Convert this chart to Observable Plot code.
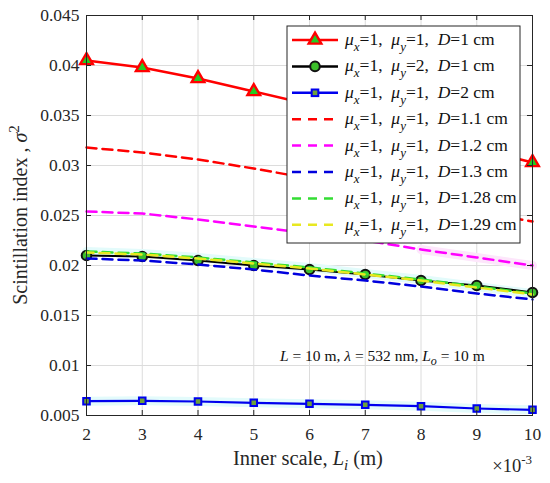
<!DOCTYPE html>
<html><head><meta charset="utf-8">
<script src="https://cdn.jsdelivr.net/npm/d3@7"></script>
<script src="https://cdn.jsdelivr.net/npm/@observablehq/plot@0.6"></script>
<style>
body{margin:0;background:#fff;}
#chart{position:relative;width:550px;height:483px;}
</style>
</head><body><div id="chart"></div>
<script>
// Inner scale L_i (×10^-3 m)
const innerScale = [2, 3, 4, 5, 6, 7, 8, 9, 10];
const xTicks = [2, 3, 4, 5, 6, 7, 8, 9, 10];
const yTicks = [0.005, 0.01, 0.015, 0.02, 0.025, 0.03, 0.035, 0.04, 0.045];

const sD1   = [0.0405, 0.0398, 0.0387, 0.0374, 0.0361, 0.0346, 0.0331, 0.0317, 0.0303];
const sMu2  = [0.0210, 0.0209, 0.0205, 0.0200, 0.0196, 0.0191, 0.0185, 0.0180, 0.0173];
const sD2   = [0.00643, 0.00647, 0.0064, 0.00627, 0.00617, 0.00607, 0.00593, 0.0057, 0.00557];
const sD11  = [0.0318, 0.0313, 0.0306, 0.0297, 0.0287, 0.0276, 0.0265, 0.0254, 0.0244];
const sD12  = [0.0254, 0.0252, 0.0246, 0.0239, 0.0232, 0.0225, 0.0216, 0.0208, 0.0200];
const sD13  = [0.0207, 0.0205, 0.0201, 0.0196, 0.0190, 0.0185, 0.0179, 0.0172, 0.0166];
const sD128 = [0.0214, 0.0212, 0.0208, 0.0203, 0.0198, 0.0192, 0.0186, 0.0179, 0.0172];
const sD129 = [0.0213, 0.0211, 0.0207, 0.0202, 0.0197, 0.0191, 0.0185, 0.0178, 0.0171];

const seriesNames = ["D1", "mu2", "D2", "D1.1", "D1.2", "D1.3", "D1.28", "D1.29"];
const legendLabels = [
  ["1", "1", "1 cm"], ["1", "2", "1 cm"], ["1", "1", "2 cm"], ["1", "1", "1.1 cm"],
  ["1", "1", "1.2 cm"], ["1", "1", "1.3 cm"], ["1", "1", "1.28 cm"], ["1", "1", "1.29 cm"]
];

const toRows = (vals) => innerScale.map((x, i) => ({x, y: vals[i]}));

const serif = "'Liberation Serif', 'Times New Roman', serif";
const dash = "10,6";

const plot = Plot.plot({
  width: 550, height: 483,
  marginLeft: 86, marginRight: 18, marginTop: 15, marginBottom: 68,
  style: {fontFamily: serif, fontSize: "17.5px", color: "#262626", background: "#fff"},
  x: {domain: [2, 10], label: null},
  y: {domain: [0.005, 0.045], label: null},
  marks: [
    Plot.gridX(xTicks, {stroke: "#dcdcdc", strokeOpacity: 1, strokeWidth: 1}),
    Plot.gridY(yTicks, {stroke: "#dcdcdc", strokeOpacity: 1, strokeWidth: 1}),
    // faint halo
    Plot.line(toRows(sD128), {x: "x", y: "y", stroke: "#e3fbfb", strokeWidth: 9}),
    Plot.line(toRows(sD2), {x: "x", y: "y", stroke: "#e3fbfb", strokeWidth: 9}),
    Plot.line(toRows(sD12).slice(6), {x: "x", y: "y", stroke: "#fde6fb", strokeWidth: 9}),
    // solid series
    Plot.line(toRows(sD2), {x: "x", y: "y", stroke: "#0000ee", strokeWidth: 2.2}),
    Plot.dot(toRows(sD2), {x: "x", y: "y", symbol: "square", r: 3.7, fill: "#6ea03a", stroke: "#0000ee", strokeWidth: 2}),
    Plot.line(toRows(sMu2), {x: "x", y: "y", stroke: "#000", strokeWidth: 2.2}),
    Plot.dot(toRows(sMu2), {x: "x", y: "y", symbol: "circle", r: 4.8, fill: "#3cbf2a", stroke: "#111", strokeWidth: 2}),
    Plot.line(toRows(sD1), {x: "x", y: "y", stroke: "#ff0000", strokeWidth: 2.5}),
    Plot.dot(toRows(sD1), {x: "x", y: "y", symbol: "triangle", r: 4.7, fill: "#22cc22", stroke: "#ff0000", strokeWidth: 2.4}),
    // dashed series
    Plot.line(toRows(sD11), {x: "x", y: "y", stroke: "#ff0000", strokeWidth: 2.5, strokeDasharray: dash}),
    Plot.line(toRows(sD12), {x: "x", y: "y", stroke: "#ff00ff", strokeWidth: 2.5, strokeDasharray: dash}),
    Plot.line(toRows(sD13), {x: "x", y: "y", stroke: "#0000dd", strokeWidth: 2.5, strokeDasharray: dash}),
    Plot.line(toRows(sD128), {x: "x", y: "y", stroke: "#33dd33", strokeWidth: 2.5, strokeDasharray: dash}),
    Plot.line(toRows(sD129), {x: "x", y: "y", stroke: "#e8e820", strokeWidth: 2.5, strokeDasharray: dash, strokeDashoffset: 3}),
    // inward ticks
    Plot.ruleX(xTicks, {x: d => d, y1: 0.005, y2: 0.0055, stroke: "#262626"}),
    Plot.ruleX(xTicks, {x: d => d, y1: 0.045, y2: 0.0445, stroke: "#262626"}),
    Plot.ruleY(yTicks, {y: d => d, x1: 2, x2: 2.09, stroke: "#262626"}),
    Plot.ruleY(yTicks, {y: d => d, x1: 10, x2: 9.91, stroke: "#262626"}),
    Plot.frame({stroke: "#262626", strokeWidth: 1}),
    Plot.axisX(xTicks, {tickSize: 0, tickPadding: 12, tickFormat: d => String(d), label: null}),
    Plot.axisY(yTicks, {tickSize: 0, tickPadding: 7, tickFormat: d => String(+d.toFixed(3)), label: null})
  ]
});

document.getElementById("chart").appendChild(plot);

const svg = d3.select(plot);

// Legend
const lg = svg.append("g").attr("font-family", serif).attr("text-anchor", "start");
const lx = 287, ly = 26, lw = 233, lh = 217;
lg.append("rect").attr("x", lx).attr("y", ly).attr("width", lw).attr("height", lh)
  .attr("fill", "#fff").attr("stroke", "#262626").attr("stroke-width", 1);
const legendStyles = [
  {stroke: "#ff0000", dash: null, marker: "triangle"},
  {stroke: "#000", dash: null, marker: "circle"},
  {stroke: "#0000ee", dash: null, marker: "square"},
  {stroke: "#ff0000", dash: dash},
  {stroke: "#ff00ff", dash: dash},
  {stroke: "#0000dd", dash: dash},
  {stroke: "#33dd33", dash: dash},
  {stroke: "#e8e820", dash: dash}
];
seriesNames.forEach((name, i) => {
  const cy = 40 + i * 26.4;
  const st = legendStyles[i];
  const ln = lg.append("line").attr("x1", 292).attr("x2", 338).attr("y1", cy).attr("y2", cy)
    .attr("stroke", st.stroke).attr("stroke-width", 2.5);
  if (st.dash) ln.attr("stroke-dasharray", "9,7").attr("stroke-dashoffset", 0);
  const mx = 315;
  if (st.marker === "triangle") {
    lg.append("path").attr("d", d3.symbol(d3.symbolTriangle, Math.PI * 4.7 * 4.7)())
      .attr("transform", `translate(${mx},${cy})`).attr("fill", "#22cc22").attr("stroke", "#ff0000").attr("stroke-width", 2.4);
  } else if (st.marker === "circle") {
    lg.append("circle").attr("cx", mx).attr("cy", cy).attr("r", 4.8).attr("fill", "#3cbf2a").attr("stroke", "#111").attr("stroke-width", 2);
  } else if (st.marker === "square") {
    lg.append("rect").attr("x", mx - 3.3).attr("y", cy - 3.3).attr("width", 6.6).attr("height", 6.6)
      .attr("fill", "#6ea03a").attr("stroke", "#0000ee").attr("stroke-width", 2);
  }
  const [mxv, myv, dv] = legendLabels[i];
  const t = lg.append("text").attr("x", 345).attr("y", cy + 5).attr("font-size", 17.5).attr("fill", "#111");
  t.append("tspan").attr("font-style", "italic").text("μ");
  t.append("tspan").attr("font-style", "italic").attr("font-size", 13).attr("dy", 6).text("x");
  t.append("tspan").attr("dy", -6).text("=" + mxv + ",\u00a0\u00a0");
  t.append("tspan").attr("font-style", "italic").text("μ");
  t.append("tspan").attr("font-style", "italic").attr("font-size", 13).attr("dy", 6).text("y");
  t.append("tspan").attr("dy", -6).text("=" + myv + ",\u00a0\u00a0");
  t.append("tspan").attr("font-style", "italic").text("D");
  t.append("tspan").text("=" + dv);
});

// Annotation
const ann = svg.append("text").attr("x", 280).attr("y", 361).attr("text-anchor", "start").attr("font-family", serif)
  .attr("font-size", 15.5).attr("fill", "#111");
ann.append("tspan").attr("font-style", "italic").text("L");
ann.append("tspan").text(" = 10 m, ");
ann.append("tspan").attr("font-style", "italic").text("λ");
ann.append("tspan").text(" = 532 nm, ");
ann.append("tspan").attr("font-style", "italic").text("L");
ann.append("tspan").attr("font-style", "italic").attr("font-size", 12).attr("dy", 4).text("o");
ann.append("tspan").attr("dy", -4).text(" = 10 m");

// X label
const xl = svg.append("text").attr("x", 308).attr("y", 465).attr("text-anchor", "middle")
  .attr("font-family", serif).attr("font-size", 20.5).attr("fill", "#262626");
xl.append("tspan").text("Inner scale, ");
xl.append("tspan").attr("font-style", "italic").text("L");
xl.append("tspan").attr("font-style", "italic").attr("font-size", 15).attr("dy", 5).text("i");
xl.append("tspan").attr("dy", -5).text(" (m)");

// ×10^-3
const ex = svg.append("text").attr("x", 532).attr("y", 472).attr("text-anchor", "end")
  .attr("font-family", serif).attr("font-size", 18.5).attr("fill", "#262626");
ex.append("tspan").text("×10");
ex.append("tspan").attr("font-size", 13).attr("dy", -8).text("-3");

// Y label
const yl = svg.append("text").attr("transform", "translate(27,215) rotate(-90)").attr("text-anchor", "middle")
  .attr("font-family", serif).attr("font-size", 20).attr("fill", "#262626");
yl.append("tspan").text("Scintillation index , ");
yl.append("tspan").attr("font-style", "italic").text("σ");
yl.append("tspan").attr("font-size", 15).attr("dy", -8).text("2");
</script>
</body></html>
